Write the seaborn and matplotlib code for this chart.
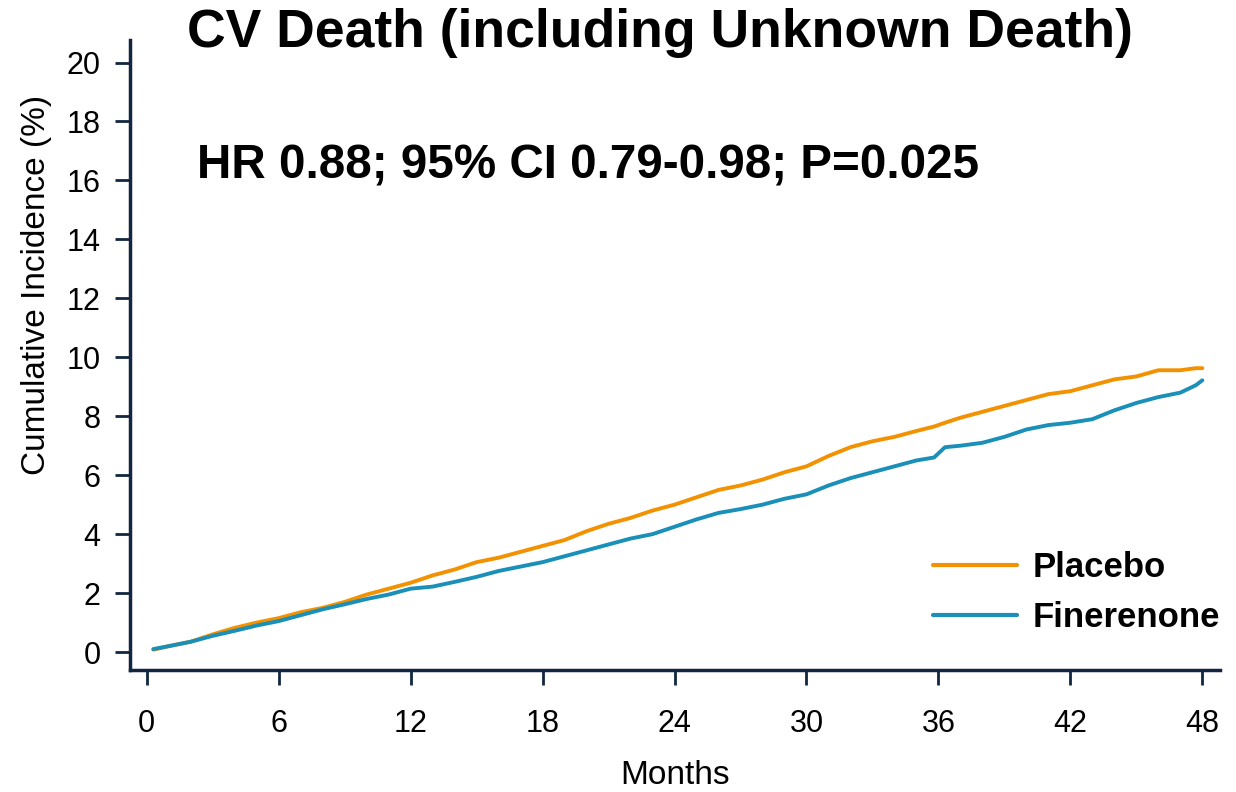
import numpy as np
import pandas as pd
import matplotlib
matplotlib.use("Agg")
import matplotlib.pyplot as plt
import seaborn as sns

# ---- data (months, cumulative incidence %) ----
months = [0.3, 1, 2, 3, 4, 5, 6, 7, 8, 9, 10, 11, 12, 13, 14, 15, 16, 17, 18,
          19, 20, 21, 22, 23, 24, 25, 26, 27, 28, 29, 30, 31, 32, 33, 34, 35,
          35.8, 36.3, 37, 38, 39, 40, 41, 42, 43, 44, 45, 46, 47, 47.7, 48]

placebo = [0.08, 0.2, 0.35, 0.6, 0.82, 1.0, 1.15, 1.35, 1.5, 1.7, 1.95, 2.15,
           2.35, 2.6, 2.8, 3.05, 3.2, 3.4, 3.6, 3.8, 4.1, 4.35, 4.55, 4.8,
           5.0, 5.25, 5.5, 5.65, 5.85, 6.1, 6.3, 6.65, 6.95, 7.15, 7.3, 7.5,
           7.65, 7.78, 7.95, 8.15, 8.35, 8.55, 8.75, 8.85, 9.05, 9.25, 9.35,
           9.56, 9.56, 9.63, 9.63]

finerenone = [0.1, 0.2, 0.35, 0.55, 0.72, 0.9, 1.05, 1.25, 1.45, 1.62, 1.8,
              1.95, 2.15, 2.22, 2.38, 2.55, 2.75, 2.9, 3.05, 3.25, 3.45, 3.65,
              3.85, 4.0, 4.25, 4.5, 4.72, 4.85, 5.0, 5.2, 5.35, 5.65, 5.9, 6.1,
              6.3, 6.5, 6.6, 6.95, 7.0, 7.1, 7.3, 7.55, 7.7, 7.78, 7.9, 8.2,
              8.45, 8.65, 8.8, 9.05, 9.22]

groups = ["Placebo", "Finerenone"]
colors = {"Placebo": "#F39200", "Finerenone": "#1A90B8"}

x_ticks = [0, 6, 12, 18, 24, 30, 36, 42, 48]
y_ticks = [0, 2, 4, 6, 8, 10, 12, 14, 16, 18, 20]

title = "CV Death (including Unknown Death)"
hr_text = "HR 0.88; 95% CI 0.79-0.98; P=0.025"

df = pd.concat([
    pd.DataFrame({"Months": months, "Incidence": placebo, "Group": "Placebo"}),
    pd.DataFrame({"Months": months, "Incidence": finerenone, "Group": "Finerenone"}),
])

# -----------------------------
# plot
# -----------------------------
sns.set_style("white")
plt.rcParams["font.family"] = ["Liberation Sans", "DejaVu Sans"]
plt.rcParams["text.color"] = "black"
plt.rcParams["axes.labelcolor"] = "black"

spine_col = "#12263f"

fig = plt.figure(figsize=(12.36, 7.92), dpi=100)
ax = fig.add_axes([0.105, 0.154, 0.882, 0.795])

sns.lineplot(data=df, x="Months", y="Incidence", hue="Group",
             hue_order=groups, palette=colors, linewidth=2.8, ax=ax,
             legend=False, estimator=None)

ax.set_xlim(-0.77, 48.8)
ax.set_ylim(-0.61, 20.75)
ax.set_xticks(x_ticks)
ax.set_yticks(y_ticks)

for side in ["top", "right"]:
    ax.spines[side].set_visible(False)
for side in ["left", "bottom"]:
    ax.spines[side].set_color(spine_col)
    ax.spines[side].set_linewidth(2.5)

ax.tick_params(axis="both", direction="out", length=11, width=2,
               color=spine_col, labelsize=22, labelcolor="black",
               bottom=True, left=True)
ax.tick_params(axis="y", pad=10)
ax.tick_params(axis="x", pad=17)

ax.set_xlabel("Months", fontsize=24)
ax.set_ylabel("Cumulative Incidence (%)", fontsize=24)
ax.xaxis.set_label_coords(0.5, -0.143)
ax.yaxis.set_label_coords(-0.071, 0.611)

# legend
handles = [plt.Line2D([], [], color=colors[g], linewidth=3) for g in groups]
leg = ax.legend(handles, groups, loc="center right", frameon=False,
                prop={"weight": "bold", "size": 25}, handlelength=2.4,
                handletextpad=0.45, labelspacing=0.47, borderpad=0,
                borderaxespad=0, bbox_to_anchor=(1.0, 0.123))

ax.text(2.27, 16.5, hr_text, fontsize=34.3, fontweight="bold", va="center",
        ha="left")
fig.text(0.534, 0.958, title, fontsize=38.5, fontweight="bold", ha="center",
         va="center")

fig.savefig("out.png", dpi=100)
